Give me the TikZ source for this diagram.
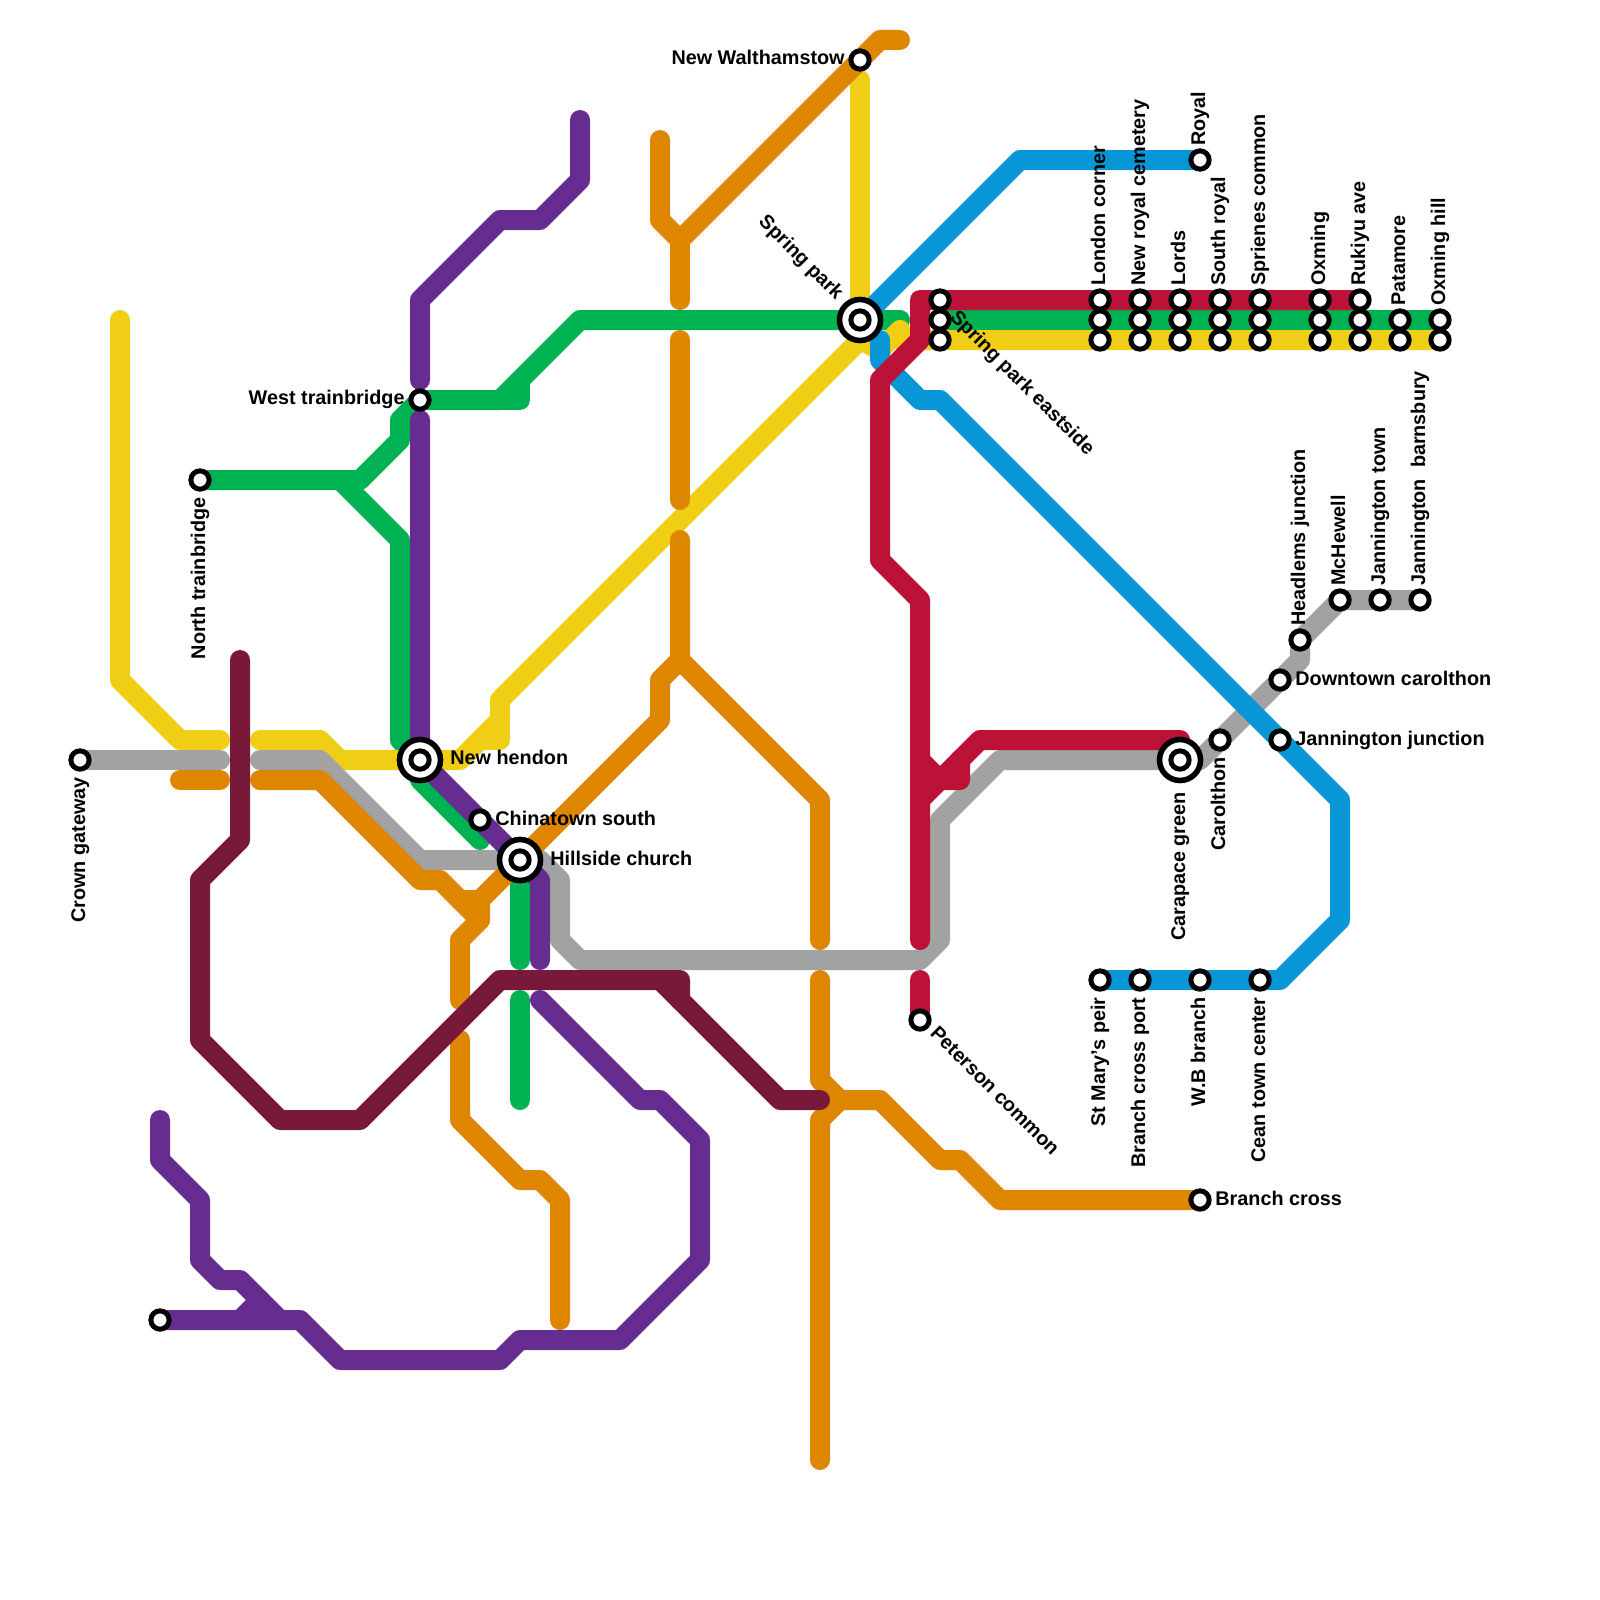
\documentclass[tikz,border=0pt]{standalone}
\usepackage{fontspec}
\setmainfont{Liberation Sans}
\definecolor{cyel}{HTML}{F0CE15}
\definecolor{cgry}{HTML}{A2A2A2}
\definecolor{corg}{HTML}{DF8600}
\definecolor{cgrn}{HTML}{00B251}
\definecolor{cpur}{HTML}{662C90}
\definecolor{cblu}{HTML}{0896D7}
\definecolor{cred}{HTML}{BC1238}
\definecolor{cdrk}{HTML}{79193A}
\tikzset{
  metro/.style={line width=10pt,line cap=round,line join=round},
  lyel/.style={metro,draw=cyel}, lgry/.style={metro,draw=cgry},
  lorg/.style={metro,draw=corg}, lgrn/.style={metro,draw=cgrn},
  lpur/.style={metro,draw=cpur}, lblu/.style={metro,draw=cblu},
  lred/.style={metro,draw=cred}, ldrk/.style={metro,draw=cdrk},
  stn/.style={circle,draw=black,fill=white,line width=2.5pt,minimum size=9.15pt,inner sep=0pt,outer sep=0pt},
  hub/.style={circle,draw=black,fill=white,line width=2.8pt,minimum size=20.5pt,inner sep=0pt,outer sep=0pt},
  lab/.style={font=\bfseries\fontsize{9.9pt}{12pt}\selectfont,inner sep=0pt,text=black},
  rgt/.style={lab,anchor=base west},
  lft/.style={lab,anchor=base east},
  upw/.style={lab,rotate=90,anchor=base west},
  dnw/.style={lab,rotate=90,anchor=base east},
  dia/.style={lab,rotate=-45,anchor=base west},
  dib/.style={lab,rotate=-45,anchor=base east}
}
\begin{document}
\begin{tikzpicture}[x=10pt,y=-10pt]
\useasboundingbox (0,0) rectangle (80,80);
% station positions
\coordinate (pCrown) at (4,38);
\coordinate (pNorth) at (10,24);
\coordinate (pWest) at (21,20);
\coordinate (pHendon) at (21,38);
\coordinate (pChina) at (24,41);
\coordinate (pHill) at (26,43);
\coordinate (pWalt) at (43,3);
\coordinate (pSpring) at (43,16);
\coordinate (pRoyal) at (60,8);
\coordinate (pCara) at (59,38);
\coordinate (pBarns) at (71,30);
\coordinate (pMary) at (55,49);
\coordinate (pBranch) at (60,60);
\coordinate (pPeter) at (46,51);
\coordinate (pLone) at (8,66);
\coordinate (pRuk) at (68,15);
\coordinate (pHillG) at (72,16);
\coordinate (pHillY) at (72,17);
% green
\draw[lgrn] (pNorth) -- (18,24) -- (20,22) -- (20,21) -- (pWest) -- (25,20) -- (29,16) -- (45,16);
\draw[lgrn] (25,20) -- (26,20) -- (26,19);
\draw[lgrn] (17,24) -- (20,27) -- (20,37) -- (21,38) -- (21,39) -- (24,42);
\draw[lgrn] (pHill) -- (26,48);
\draw[lgrn] (26,50) -- (26,55);
\draw[lgrn] (47,16) -- (pHillG);
% yellow
\draw[lyel] (6,16) -- (6,34) -- (9,37) -- (11,37);
\draw[lyel] (13,37) -- (16,37) -- (17,38) -- (23,38) -- (25,36) -- (25,35) -- (43,17) -- (44,17.5) -- (45,16.5) -- (45,17) -- (pHillY);
\draw[lyel] (24,37) -- (25,37) -- (25,36);
\draw[lyel] (43,4) -- (pSpring);
% gray
\draw[lgry] (pCrown) -- (11,38);
\draw[lgry] (13,38) -- (16,38) -- (21,43) -- (pHill) -- (27,43) -- (28,44) -- (28,47) -- (29,48) -- (46,48) -- (47,47) -- (47,41) -- (50,38) -- (pCara) -- (60,38) -- (65,33) -- (65,32) -- (67,30) -- (pBarns);
% orange
\draw[lorg] (9,39) -- (11,39);
\draw[lorg] (13,39) -- (16,39) -- (21,44) -- (22,44) -- (24,46) -- (23,47) -- (23,50);
\draw[lorg] (45,2) -- (44,2) -- (34,12) -- (33,11) -- (33,7);
\draw[lorg] (34,12) -- (34,15);
\draw[lorg] (34,17) -- (34,25);
\draw[lorg] (34,27) -- (34,33) -- (33,34) -- (33,36) -- (24,45) -- (24,46);
\draw[lorg] (23,45) -- (24,45);
\draw[lorg] (34,33) -- (41,40) -- (41,47);
\draw[lorg] (41,49) -- (41,54) -- (42,55) -- (44,55) -- (47,58) -- (48,58) -- (50,60) -- (pBranch);
\draw[lorg] (41,73) -- (41,56) -- (42,55);
\draw[lorg] (23,52) -- (23,56) -- (26,59) -- (27,59) -- (28,60) -- (28,66);
% purple
\draw[lpur] (29,6) -- (29,9) -- (27,11) -- (25,11) -- (21,15) -- (21,19);
\draw[lpur] (21,21) -- (21,38) -- (27,44) -- (27,48);
\draw[lpur] (27,50) -- (32,55) -- (33,55) -- (35,57) -- (35,63) -- (31,67) -- (26,67) -- (25,68) -- (17,68) -- (15,66) -- (pLone);
\draw[lpur] (8,56) -- (8,58) -- (10,60) -- (10,63) -- (11,64) -- (12,64) -- (14,66);
\draw[lpur] (12,66) -- (13,65);
% blue
\draw[lblu] (pRoyal) -- (51,8) -- (44,15) -- (pSpring);
\draw[lblu] (44,17) -- (44,18) -- (46,20) -- (47,20) -- (67,40) -- (67,46) -- (64,49) -- (pMary);
% red
\draw[lred] (pRuk) -- (46,15) -- (46,17) -- (44,19) -- (44,28) -- (46,30) -- (46,47);
\draw[lred] (46,49) -- (pPeter);
\draw[lred] (59,37) -- (49,37) -- (46,40);
\draw[lred] (46,38) -- (47,39) -- (48,39) -- (48,38);
% dark
\draw[ldrk] (12,33) -- (12,42) -- (10,44) -- (10,52) -- (14,56) -- (18,56) -- (25,49) -- (34,49) -- (34,50);
\draw[ldrk] (33,49) -- (39,55) -- (41,55);
% hubs
\node[hub] (hHendon) at (pHendon) {};
\node[hub] (hHill) at (pHill) {};
\node[hub] (hSpring) at (pSpring) {};
\node[hub] (hCara) at (pCara) {};
% stations
\foreach \nm/\pos in {crown/pCrown,north/pNorth,west/pWest,hendon/pHendon,china/pChina,hill/pHill,walt/pWalt,spring/pSpring,royal/pRoyal,cara/pCara,barns/pBarns,mary/pMary,branch/pBranch,peter/pPeter,lone/pLone}
  \node[stn] (s\nm) at (\pos) {};
\foreach \x/\nm in {47/a,55/b,57/c,59/d,61/e,63/f,66/g,68/h}
  \foreach \y in {15,16,17}
    \node[stn] (s\nm\y) at (\x,\y) {};
\foreach \x/\nm in {70/i,72/j}
  \foreach \y in {16,17}
    \node[stn] (s\nm\y) at (\x,\y) {};
\node[stn] (sheadl) at (65,32) {};
\node[stn] (smchew) at (67,30) {};
\node[stn] (sjtown) at (69,30) {};
\node[stn] (sdown) at (64,34) {};
\node[stn] (sjjunc) at (64,37) {};
\node[stn] (scarol) at (61,37) {};
\node[stn] (sbport) at (57,49) {};
\node[stn] (swb) at (60,49) {};
\node[stn] (scean) at (63,49) {};
% labels
\node[dnw] (lCrown) at (4.25,38.85) {Crown gateway};
\node[dnw] (lNorth) at (10.25,24.85) {North trainbridge};
\node[lft] (lWest) at (20.25,20.2) {West trainbridge};
\node[rgt] (lHendon) at (22.5,38.2) {New hendon};
\node[rgt] (lChina) at (24.75,41.25) {Chinatown south};
\node[rgt] (lHill) at (27.5,43.25) {Hillside church};
\node[lft] (lWalt) at (42.25,3.25) {New Walthamstow};
\node[dib] (lSpring) at (41.8,15.05) {Spring park};
\node[dia] (lEast) at (47.45,15.9) {Spring park eastside};
\node[upw] (l1) at (55.25,14.3) {London corner};
\node[upw] (l2) at (57.25,14.3) {New royal cemetery};
\node[upw] (l3) at (59.25,14.3) {Lords};
\node[upw] (l4) at (61.25,14.3) {South royal};
\node[upw] (l5) at (63.25,14.3) {Sprienes common};
\node[upw] (l6) at (66.25,14.3) {Oxming};
\node[upw] (l7) at (68.25,14.3) {Rukiyu ave};
\node[upw] (l8) at (70.25,15.3) {Patamore};
\node[upw] (l9) at (72.25,15.3) {Oxming hill};
\node[upw] (l10) at (60.25,7.3) {Royal};
\node[upw] (l11) at (65.25,31.3) {Headlems junction};
\node[upw] (l12) at (67.25,29.3) {McHewell};
\node[upw] (l13) at (69.25,29.3) {Jannington town};
\node[upw] (l14) at (71.25,29.3) {Jannington\ \ barnsbury};
\node[rgt] (l15) at (64.75,34.25) {Downtown carolthon};
\node[rgt] (l16) at (64.75,37.25) {Jannington junction};
\node[dnw] (l17) at (61.25,37.85) {Carolthon};
\node[dnw] (l18) at (59.25,39.6) {Carapace green};
\node[dnw] (l19) at (55.25,49.85) {St Mary’s peir};
\node[dnw] (l20) at (57.25,49.85) {Branch cross port};
\node[dnw] (l21) at (60.25,49.85) {W.B branch};
\node[dnw] (l22) at (63.25,49.85) {Cean town center};
\node[rgt] (l23) at (60.75,60.25) {Branch cross};
\node[dia] (l24) at (46.45,51.7) {Peterson common};
\end{tikzpicture}
\end{document}
